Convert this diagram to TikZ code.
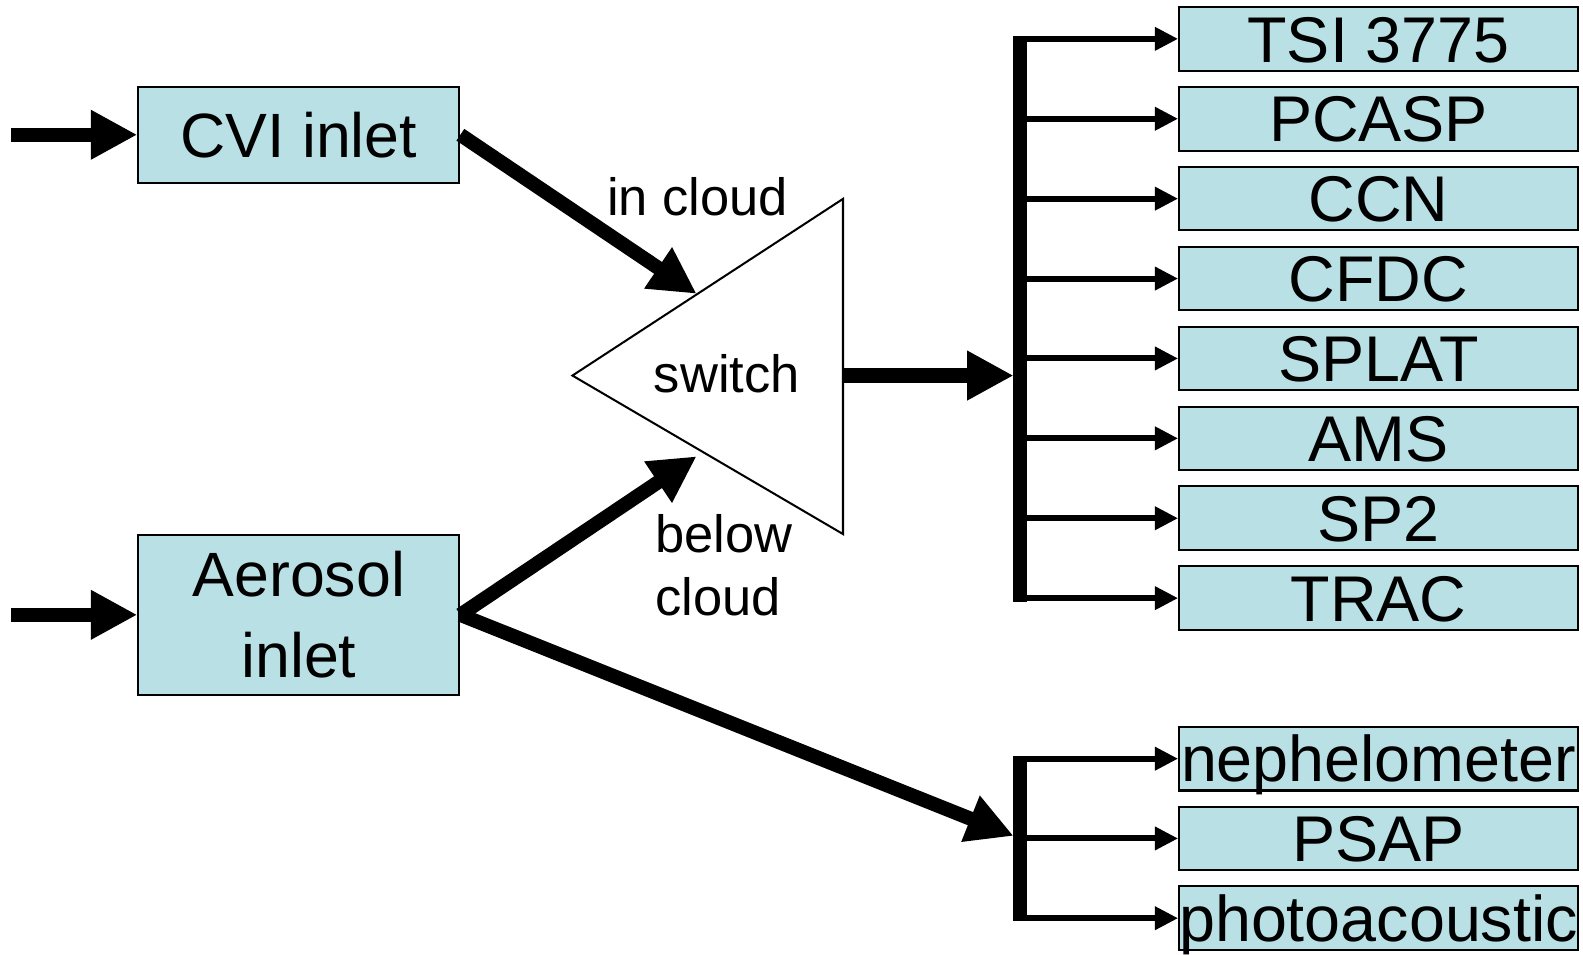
\documentclass[tikz,border=0pt]{standalone}
\usepackage{fontspec}
\setmainfont{Liberation Sans}
\usetikzlibrary{arrows.meta}
\definecolor{boxfill}{RGB}{185,224,228}
\tikzset{
 inst/.style={draw=black, line width=1pt, fill=boxfill, minimum width=197.5pt, minimum height=31.5pt, inner sep=0pt, font=\fontsize{32}{36}\selectfont, text height=23pt, text depth=0pt},
 inletbox/.style={draw=black, line width=1pt, fill=boxfill, inner sep=0pt, font=\fontsize{31}{40}\selectfont, align=center, minimum width=159pt},
 fat/.style={line width=7pt, -{Triangle[length=23pt,width=23pt]}},
 thinarr/.style={line width=3pt, -{Triangle[length=11.5pt,width=11pt]}},
 lbl/.style={font=\fontsize{26}{31}\selectfont, inner sep=0pt}
}
\begin{document}
\begin{tikzpicture}[x=0.5pt,y=-0.5pt]
\useasboundingbox (0,0) rectangle (1568,945);
% inlets
\node[inletbox, minimum height=47.5pt] (cvi) at (296,133.5) {CVI inlet};
\node[inletbox, minimum height=79pt] (aer) at (296,609) {Aerosol\\inlet};
\coordinate (cin) at (11,133.5);
\coordinate (ain) at (11,609);
\draw[fat] (cin) -- (cvi.west);
\draw[fat] (ain) -- (aer.west);
% switch triangle
\coordinate (tl) at (567,372);
\coordinate (tt) at (835,197);
\coordinate (tb) at (835,529);
\draw[line width=1pt, fill=white] (tl) -- (tt) -- (tb) -- cycle;
\node[lbl] (sw) at (720,370) {switch};
\node[lbl, anchor=west] (incl) at (601,195) {in cloud};
\node[lbl, anchor=west, align=left] (bel) at (649,560) {below\\cloud};
\coordinate (inA) at (690,291);
\coordinate (inB) at (690,452);
\coordinate (tout) at (835,372);
\draw[fat] (cvi.east) -- (inA);
\draw[fat] (aer.east) -- (inB);
% upper instruments
\foreach \n/\t [count=\i from 0] in {b1/TSI 3775,b2/PCASP,b3/CCN,b4/CFDC,b5/SPLAT,b6/AMS,b7/SP2,b8/TRAC}{
  \node[inst] (\n) at (1365.5,{38.5+79.14*\i}) {\t};
}
\coordinate (busT) at (1010,36);
\coordinate (busTb) at (1010,596);
\draw[line width=7pt] (busT) -- (busTb);
\coordinate (busIn) at (1004,372);
\draw[fat] (tout) -- (busIn);
\foreach \n in {b1,b2,b3,b4,b5,b6,b7,b8}{
  \draw[thinarr] (busT |- \n.west) -- (\n.west);
}
% lower instruments
\node[inst] (c1) at (1365.5,751.5) {nephelometer};
\node[inst] (c2) at (1365.5,830.5) {PSAP};
\node[inst] (c3) at (1365.5,909.5) {photoacoustic};
\coordinate (busL) at (1010,749);
\coordinate (busLb) at (1010,912);
\draw[line width=7pt] (busL) -- (busLb);
\coordinate (busLin) at (1004,828);
\draw[fat] (aer.east) -- (busLin);
\foreach \n in {c1,c2,c3}{
  \draw[thinarr] (busL |- \n.west) -- (\n.west);
}
\end{tikzpicture}
\end{document}
